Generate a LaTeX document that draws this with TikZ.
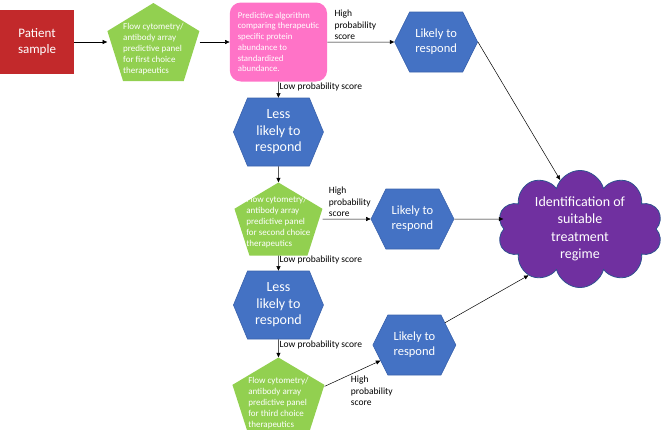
\documentclass[tikz,border=0pt]{standalone}
\usepackage{fontspec}
\setmainfont{Carlito}
\usetikzlibrary{arrows.meta,positioning,calc,shapes.symbols}
\definecolor{sampred}{HTML}{C2292B}
\definecolor{panelgreen}{HTML}{92D050}
\definecolor{algpink}{HTML}{FF73C7}
\definecolor{hexblue}{HTML}{4472C4}
\definecolor{hexedge}{HTML}{3A62AC}
\definecolor{cloudpurple}{HTML}{7030A0}
\definecolor{cloudedge}{HTML}{2F528F}
\tikzset{
  samplebox/.style ={fill=sampred,text=white,align=center,font=\fontsize{13}{16}\selectfont,
                     minimum width=74pt,minimum height=64pt,inner sep=0pt},
  panelbox/.style  ={text=white,align=left,font=\fontsize{9}{11}\selectfont,inner sep=0pt,
                     minimum width=92pt,minimum height=78pt,text height=65pt,
                     path picture={\fill[panelgreen] (path picture bounding box.north)
                       -- ($(path picture bounding box.north east)!.36!(path picture bounding box.south east)$)
                       -- ($(path picture bounding box.south east)!.17!(path picture bounding box.south west)$)
                       -- ($(path picture bounding box.south west)!.17!(path picture bounding box.south east)$)
                       -- ($(path picture bounding box.north west)!.36!(path picture bounding box.south west)$)
                       -- cycle;}},
  algbox/.style    ={fill=algpink,rounded corners=11pt,text=white,align=left,
                     font=\fontsize{8.8}{10.7}\selectfont,
                     minimum width=97pt,minimum height=79pt,inner xsep=8pt},
  hexbox/.style    ={signal,signal to=west and east,signal pointer angle=127,
                     fill=hexblue,draw=hexedge,line width=.6pt,text=white,align=center,
                     font=\fontsize{12.5}{15}\selectfont,
                     minimum width=83pt,minimum height=60pt,inner sep=0pt},
  lesshex/.style   ={hexbox,font=\fontsize{14}{16.5}\selectfont,
                     minimum width=90pt,minimum height=68pt,signal pointer angle=135},
  cloudbox/.style  ={cloud,cloud puffs=10,cloud ignores aspect,fill=cloudpurple,
                     draw=cloudedge,line width=.8pt,text=white,align=center,
                     font=\fontsize{14}{17.5}\selectfont,inner sep=0pt,
                     minimum width=165pt,minimum height=114pt},
  flow/.style      ={-{Triangle[length=4.5pt,width=4pt]},line width=.5pt},
  lbl/.style       ={font=\fontsize{9.5}{11.6}\selectfont,align=left,inner sep=1pt},
}

\begin{document}
\begin{tikzpicture}[x=1pt,y=-1pt]
\useasboundingbox (0,0) rectangle (662,429);
% first choice row
\node[samplebox] (ps) at (37,42) {Patient\\sample};
\node[panelbox,right=33pt of ps] (p1)
  {Flow cytometry/\\antibody array\\predictive panel\\for first choice\\therapeutics};
\node[algbox,right=30pt of p1] (alg)
  {Predictive algorithm\\comparing therapeutic\\specific protein\\abundance to\\standardized\\abundance.};
\node[hexbox,right=67pt of alg] (l1) {Likely to\\respond};
\draw[flow] (ps) -- (p1);
\draw[flow] (p1) -- (alg);
\draw[flow] (alg) -- node[lbl,above right=1pt and 6pt,pos=0] {High\\probability\\score} (l1);
% second choice
\node[lesshex,below=16pt of alg] (n1) {Less\\likely to\\respond};
\node[panelbox,below=16pt of n1,minimum width=88pt,minimum height=73pt,text height=57pt] (p2)
  {Flow cytometry/\\antibody array\\predictive panel\\for second choice\\therapeutics};
\node[hexbox,right=48pt of p2] (l2) {Likely to\\respond};
\draw[flow] (alg) -- node[lbl,right,pos=.3] {Low probability score} (n1);
\draw[flow] (n1) -- (p2);
\draw[flow] (p2) -- node[lbl,above right=1pt and 5pt,pos=0] {High\\probability\\score} (l2);
% third choice
\node[lesshex,below=15pt of p2] (n2) {Less\\likely to\\respond};
\node[panelbox,below=18pt of n2,minimum height=76pt] (p3)
  {Flow cytometry/\\antibody array\\predictive panel\\for third choice\\therapeutics};
\node[hexbox,above right=-18pt and 63pt of p3] (l3) {Likely to\\respond};
\coordinate (p3r) at ($(p3.north east)!.38!(p3.south east)$);
\draw[flow] (p2) -- node[lbl,right,pos=.3] {Low probability score} (n2);
\draw[flow] (n2) -- node[lbl,right,pos=.3] {Low probability score} (p3);
\draw[flow] (p3r) -- node[lbl,below right,pos=.45] {High\\probability\\score} (l3);
% outcome
\node[cloudbox,right=49pt of l2,yshift=-10pt] (cl)
  {Identification of\\suitable\\treatment\\regime};
\draw[flow] (l1.east) -- (cl.112);
\draw[flow] (l2) -- (l2 -| cl.west);
\draw[flow] (l3.36) -- (cl.222);
\end{tikzpicture}
\end{document}
